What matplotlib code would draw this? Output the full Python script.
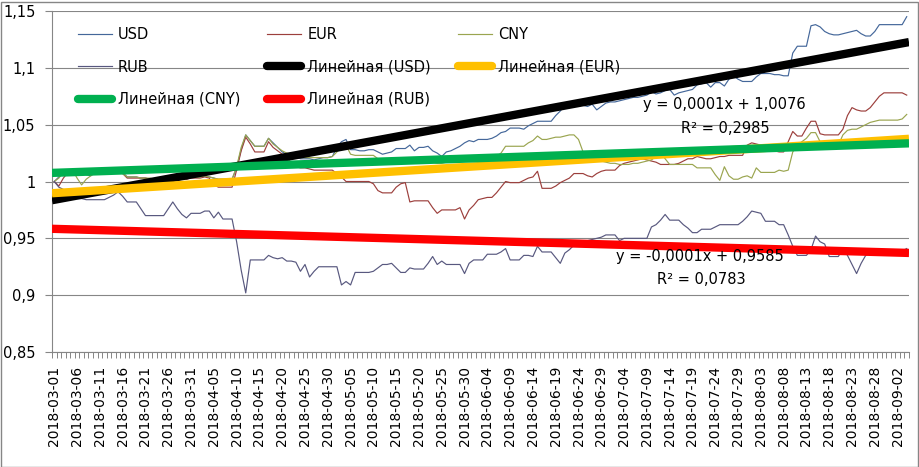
import numpy as np
import pandas as pd
import matplotlib
matplotlib.use("Agg")
import matplotlib.pyplot as plt
from matplotlib.ticker import FixedLocator, FuncFormatter
from matplotlib.patches import Rectangle
from matplotlib.lines import Line2D

plt.rcParams['font.family'] = ['DejaVu Sans']

dates = pd.date_range('2018-03-01', '2018-09-04', freq='D')

usd = [
    1.000, 1.004, 1.008, 1.008, 1.008, 1.010, 1.009, 1.006, 1.005, 1.008,
    1.008, 1.008, 1.009, 1.011, 1.012, 1.008, 1.004, 1.004, 1.004, 1.003,
    1.003, 1.002, 1.002, 1.002, 1.003, 1.004, 1.005, 1.004, 1.003, 1.002,
    1.004, 1.004, 1.004, 1.005, 1.004, 1.003, 1.002, 1.002, 1.002, 1.002,
    1.012, 1.028, 1.041, 1.036, 1.031, 1.031, 1.031, 1.038, 1.034, 1.030,
    1.026, 1.024, 1.024, 1.022, 1.020, 1.020, 1.020, 1.019, 1.020, 1.021,
    1.021, 1.022, 1.030, 1.035, 1.037, 1.028, 1.028, 1.027, 1.027, 1.028,
    1.028, 1.026, 1.024, 1.025, 1.026, 1.029, 1.029, 1.029, 1.032, 1.027,
    1.030, 1.030, 1.031, 1.027, 1.025, 1.022, 1.026, 1.027, 1.029, 1.031,
    1.034, 1.036, 1.035, 1.037, 1.037, 1.037, 1.038, 1.040, 1.043, 1.044,
    1.047, 1.047, 1.047, 1.046, 1.049, 1.051, 1.053, 1.053, 1.053, 1.053,
    1.058, 1.062, 1.067, 1.068, 1.068, 1.068, 1.067, 1.066, 1.068, 1.063,
    1.066, 1.069, 1.070, 1.070, 1.071, 1.072, 1.073, 1.074, 1.074, 1.075,
    1.076, 1.079, 1.077, 1.078, 1.080, 1.081, 1.076, 1.078, 1.079, 1.080,
    1.081, 1.085, 1.086, 1.087, 1.083, 1.087, 1.087, 1.084, 1.090, 1.093,
    1.090, 1.088, 1.088, 1.088, 1.092, 1.095, 1.095, 1.095, 1.094, 1.094,
    1.093, 1.093, 1.113, 1.119, 1.119, 1.119, 1.137, 1.138, 1.136, 1.132,
    1.130, 1.129, 1.129, 1.130, 1.131, 1.132, 1.133, 1.130, 1.128, 1.128,
    1.132, 1.138, 1.138, 1.138, 1.138, 1.138, 1.138, 1.145,
]

eur = [
    1.000, 0.996, 1.003, 1.008, 1.009, 1.010, 1.010, 1.007, 1.006, 1.009,
    1.010, 1.010, 1.010, 1.011, 1.012, 1.007, 1.003, 1.003, 1.003, 1.003,
    1.003, 1.002, 1.002, 1.002, 1.003, 1.004, 1.004, 1.003, 1.003, 1.002,
    1.003, 1.003, 1.003, 1.004, 1.003, 0.997, 0.995, 0.995, 0.995, 0.995,
    1.010, 1.027, 1.039, 1.033, 1.026, 1.026, 1.026, 1.035, 1.030, 1.027,
    1.024, 1.020, 1.017, 1.013, 1.012, 1.012, 1.011, 1.010, 1.010, 1.010,
    1.010, 1.010, 1.007, 1.004, 1.000, 1.000, 1.000, 1.000, 1.000, 1.000,
    0.998, 0.992, 0.990, 0.990, 0.990, 0.995, 0.998, 0.999, 0.982, 0.983,
    0.983, 0.983, 0.983, 0.977, 0.972, 0.975, 0.975, 0.975, 0.975, 0.977,
    0.967, 0.975, 0.979, 0.984, 0.985, 0.986, 0.986, 0.990, 0.995, 1.000,
    0.999, 0.999, 0.999, 1.001, 1.003, 1.004, 1.009, 0.994, 0.994, 0.994,
    0.996, 0.999, 1.001, 1.003, 1.007, 1.007, 1.007, 1.005, 1.004, 1.007,
    1.009, 1.010, 1.010, 1.010, 1.014, 1.016, 1.017, 1.018, 1.019, 1.020,
    1.019, 1.018, 1.017, 1.015, 1.015, 1.015, 1.015, 1.016, 1.018, 1.020,
    1.020, 1.022, 1.021, 1.020, 1.020, 1.021, 1.022, 1.022, 1.023, 1.023,
    1.023, 1.023, 1.032, 1.034, 1.033, 1.032, 1.030, 1.028, 1.027, 1.026,
    1.026, 1.035, 1.044, 1.040, 1.040, 1.047, 1.053, 1.053, 1.042, 1.041,
    1.041, 1.041, 1.041, 1.046, 1.058, 1.065, 1.063, 1.062, 1.062, 1.065,
    1.070, 1.075, 1.078, 1.078, 1.078, 1.078, 1.078, 1.076,
]

cny = [
    1.000, 1.003, 1.008, 1.010, 1.010, 1.003, 0.997, 1.002, 1.005, 1.008,
    1.009, 1.009, 1.009, 1.010, 1.012, 1.007, 1.004, 1.004, 1.004, 1.003,
    1.003, 1.003, 1.002, 1.002, 1.003, 1.005, 1.005, 1.004, 1.003, 1.003,
    1.004, 1.004, 1.004, 1.005, 1.004, 1.003, 1.002, 1.002, 1.002, 1.002,
    1.013, 1.030, 1.041, 1.036, 1.031, 1.031, 1.031, 1.038, 1.033, 1.030,
    1.027, 1.025, 1.024, 1.022, 1.021, 1.021, 1.021, 1.021, 1.021, 1.021,
    1.021, 1.022, 1.026, 1.030, 1.032, 1.024, 1.023, 1.023, 1.023, 1.023,
    1.023, 1.020, 1.019, 1.019, 1.018, 1.018, 1.018, 1.018, 1.018, 1.018,
    1.018, 1.017, 1.017, 1.017, 1.016, 1.016, 1.017, 1.017, 1.018, 1.018,
    1.019, 1.019, 1.019, 1.019, 1.020, 1.020, 1.021, 1.022, 1.025, 1.031,
    1.031, 1.031, 1.031, 1.031, 1.034, 1.036, 1.040, 1.037, 1.037, 1.038,
    1.039, 1.039, 1.040, 1.041, 1.041, 1.037, 1.026, 1.022, 1.020, 1.019,
    1.018, 1.017, 1.016, 1.016, 1.015, 1.015, 1.015, 1.016, 1.016, 1.017,
    1.018, 1.019, 1.022, 1.026, 1.020, 1.015, 1.015, 1.015, 1.015, 1.015,
    1.015, 1.012, 1.012, 1.012, 1.012, 1.006, 1.001, 1.013, 1.005, 1.002,
    1.002, 1.004, 1.005, 1.003, 1.012, 1.008, 1.008, 1.008, 1.008, 1.010,
    1.009, 1.010, 1.026, 1.032, 1.035, 1.038, 1.043, 1.043, 1.035, 1.030,
    1.030, 1.030, 1.032, 1.041, 1.045, 1.046, 1.046, 1.048, 1.050, 1.052,
    1.053, 1.054, 1.054, 1.054, 1.054, 1.054, 1.055, 1.059,
]

rub = [
    1.000, 0.995, 0.993, 0.990, 0.986, 0.985, 0.985, 0.984, 0.984, 0.984,
    0.984, 0.984, 0.986, 0.988, 0.991, 0.987, 0.982, 0.982, 0.982, 0.976,
    0.970, 0.970, 0.970, 0.970, 0.970, 0.976, 0.982, 0.976, 0.971, 0.968,
    0.972, 0.972, 0.972, 0.974, 0.974, 0.968, 0.973, 0.967, 0.967, 0.967,
    0.947, 0.922, 0.902, 0.931, 0.931, 0.931, 0.931, 0.935, 0.933, 0.932,
    0.933, 0.930, 0.930, 0.929, 0.921, 0.927, 0.916, 0.921, 0.925, 0.925,
    0.925, 0.925, 0.925, 0.909, 0.912, 0.909, 0.920, 0.920, 0.920, 0.920,
    0.921, 0.924, 0.927, 0.927, 0.928, 0.924, 0.920, 0.920, 0.924, 0.923,
    0.923, 0.923, 0.928, 0.934, 0.927, 0.930, 0.927, 0.927, 0.927, 0.927,
    0.919, 0.928, 0.931, 0.931, 0.931, 0.936, 0.936, 0.936, 0.938, 0.941,
    0.931, 0.931, 0.931, 0.935, 0.935, 0.934, 0.943, 0.938, 0.938, 0.938,
    0.933, 0.928, 0.937, 0.940, 0.944, 0.944, 0.947, 0.948, 0.949, 0.950,
    0.951, 0.953, 0.953, 0.953, 0.948, 0.950, 0.950, 0.950, 0.950, 0.950,
    0.950, 0.960, 0.962, 0.966, 0.971, 0.966, 0.966, 0.966, 0.962, 0.959,
    0.955, 0.955, 0.958, 0.958, 0.958, 0.960, 0.962, 0.962, 0.962, 0.962,
    0.962, 0.965, 0.969, 0.974, 0.973, 0.972, 0.965, 0.965, 0.965, 0.962,
    0.962, 0.953, 0.943, 0.935, 0.935, 0.935, 0.940, 0.952, 0.947, 0.945,
    0.934, 0.934, 0.934, 0.941, 0.935, 0.927, 0.919, 0.928, 0.935, 0.937,
    0.937, 0.937, 0.938, 0.937, 0.937, 0.938, 0.939, 0.941,
]

series_names = ['USD', 'EUR', 'CNY', 'RUB']
series_vals = [usd, eur, cny, rub]
series_colors = ['#44679a', '#9c3f3c', '#9aa54f', '#58587f']
trend_colors = ['#000000', '#ffc000', '#00b050', '#ff0000']
trend_prefix = 'Линейная'
eq_texts = ['y = 0,0001x + 1,0076', 'R² = 0,2985',
            'y = -0,0001x + 0,9585', 'R² = 0,0783']

n = len(dates)
x = np.arange(n)

W, H = 919, 467
fig = plt.figure(figsize=(W / 100, H / 100), dpi=100)
fig.patches.append(Rectangle((0.5 / W, 0.5 / H), (W - 2) / W, (H - 2) / H,
                             transform=fig.transFigure, fill=False,
                             edgecolor='#868686', lw=1.0))
L, R, T, B = 52, 909, 11, 352
ax = fig.add_axes([L / W, 1 - B / H, (R - L) / W, (B - T) / H])

handles = {}
for name, vals, col in zip(series_names, series_vals, series_colors):
    h, = ax.plot(x, vals, color=col, lw=0.85, zorder=2)
    handles[name] = h

# Excel-style linear trendlines (x = 1..N), fitted to the series data
xe = np.arange(1, n + 1)
for name, vals, col in zip(series_names, series_vals, trend_colors):
    k, b = np.polyfit(xe, np.array(vals), 1)
    xs = np.array([-0.5, n - 0.5])
    h, = ax.plot(xs, k * (xs + 1) + b, color=col, lw=6.0, zorder=3,
                 solid_capstyle='butt')
    handles['T' + name] = h

ax.set_xlim(-0.5, n - 0.5)
ax.set_ylim(0.85, 1.15)
yt = np.round(np.arange(0.85, 1.1501, 0.05), 2)
ax.yaxis.set_major_locator(FixedLocator(yt))


def yfmt(v, pos):
    s = f'{round(v, 2):.2f}'.rstrip('0').rstrip('.')
    return s.replace('.', ',')


ax.yaxis.set_major_formatter(FuncFormatter(yfmt))
ax.yaxis.grid(True, color='#868686', lw=0.8)
ax.set_axisbelow(True)

ax.set_xticks(x[::5])
ax.set_xticklabels([d.strftime('%Y-%m-%d') for d in dates[::5]],
                   rotation=90, fontsize=10)
ax.set_xticks(np.arange(-0.5, n, 1), minor=True)
ax.tick_params(axis='x', which='major', length=0, pad=10)
ax.tick_params(axis='x', which='minor', length=4, color='#868686', width=0.7)
ax.tick_params(axis='y', length=5, color='#868686', width=0.8, pad=7,
               labelsize=10.5)
for s in ['top', 'right']:
    ax.spines[s].set_visible(False)
for s in ['left', 'bottom']:
    ax.spines[s].set_color('#868686')
    ax.spines[s].set_linewidth(0.8)

order = ['USD', 'RUB', 'TCNY', 'EUR', 'TUSD', 'TRUB', 'CNY', 'TEUR']
labels = {n_: n_ for n_ in series_names}
for n_ in series_names:
    labels['T' + n_] = f'{trend_prefix} ({n_})'
leg_handles = []
for key in order:
    h = handles[key]
    if key.startswith('T'):
        hh = Line2D([], [], color=h.get_color(), lw=6, solid_capstyle='round')
    else:
        hh = Line2D([], [], color=h.get_color(), lw=0.85)
    leg_handles.append(hh)
ax.legend(leg_handles, [labels[k] for k in order], ncol=3, frameon=False,
          loc='upper left', bbox_to_anchor=(78 / W, 1 - 27 / H),
          bbox_transform=fig.transFigure, borderpad=0, borderaxespad=0,
          handlelength=2.33, handletextpad=0.41, columnspacing=1.85,
          labelspacing=1.2, fontsize=10.5)

fig.text(724 / W, 1 - 105 / H, eq_texts[0], ha='center', va='center', fontsize=10.5)
fig.text(725 / W, 1 - 128 / H, eq_texts[1], ha='center', va='center', fontsize=10.5)
fig.text(700 / W, 1 - 257 / H, eq_texts[2], ha='center', va='center', fontsize=10.5)
fig.text(701 / W, 1 - 280 / H, eq_texts[3], ha='center', va='center', fontsize=10.5)

fig.savefig('out.png', dpi=100)
